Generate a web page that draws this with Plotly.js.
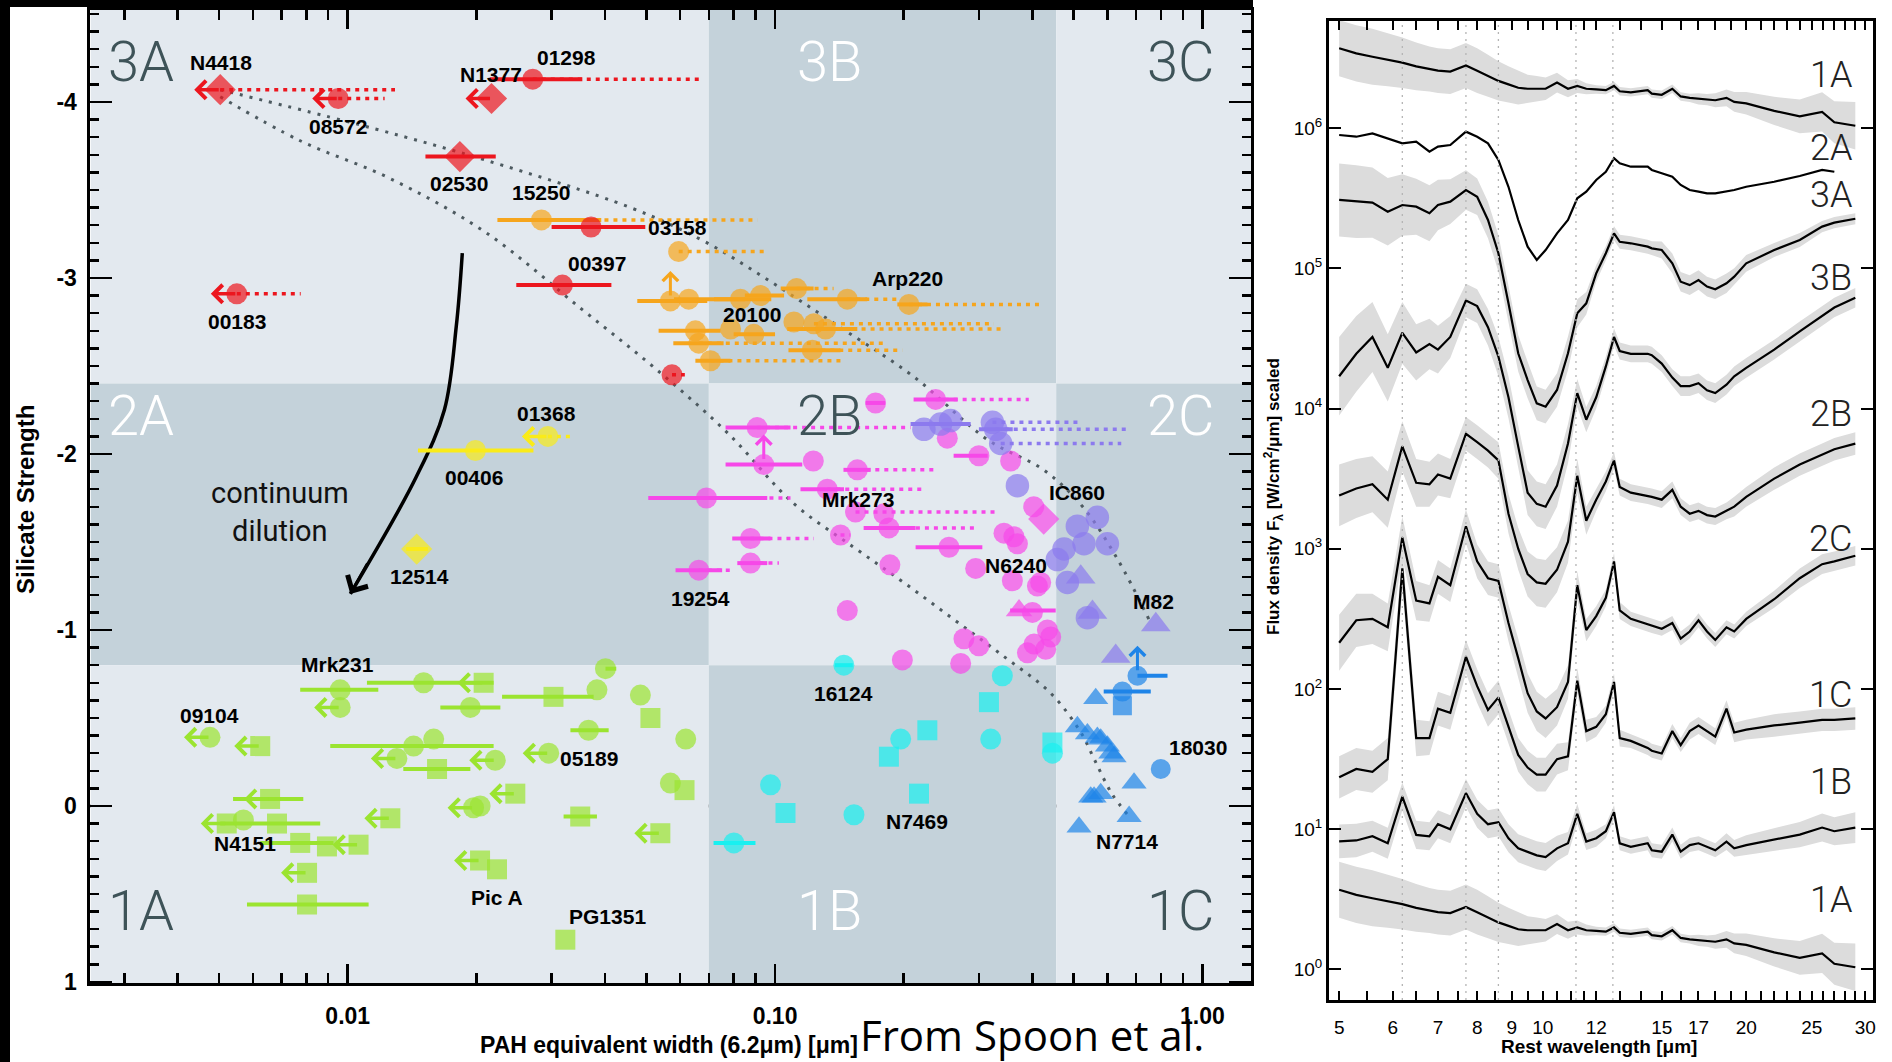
<!DOCTYPE html>
<html>
<head>
<meta charset="utf-8">
<script src="https://cdn.plot.ly/plotly-3.0.1.min.js"></script>
<style>
html,body{margin:0;padding:0;background:#ffffff;overflow:hidden;}
#fig{width:1892px;height:1062px;}
</style>
</head>
<body>
<div id="fig"></div>
<script>
// ===================== LEFT PANEL DATA (Spoon et al. fork diagram) =====================
const classColBounds = [0.0025, 0.07, 0.455, 1.3];
const classRowBounds = [-4.523, -2.4, -0.8, 1.006];
const classNames = [['3A','3B','3C'],['2A','2B','2C'],['1A','1B','1C']];
const classShadeDark = [[0,1,0],[1,0,1],[0,1,0]];

// red
const redX   = [0.00503,0.0095,0.0217,0.0271,0.0183,0.0371,0.0318,0.0055,0.0574];
const redY   = [-4.07,-4.02,-4.02,-4.13,-3.69,-3.29,-2.96,-2.91,-2.45];
const redSym = ['d','c','d','c','d','c','c','c','c'];
const redLo  = [null,null,null,0.0215,0.0152,0.0300,0.0248,null,null];
const redHi  = [null,null,null,0.0354,0.0222,0.0497,0.0414,null,null];
const redDot = [0.0129,0.0122,null,0.0669,null,null,null,0.00776,0.0615];
const redLim = [1,1,1,0,0,0,0,1,0];

// orange
const oraX   = [0.0284,0.0595,0.0569,0.0628,0.0830,0.0925,0.1123,0.1476,0.2058,0.0651,0.0787,0.0892,0.1107,0.1233,0.1313,0.0663,0.1222,0.0706];
const oraY   = [-3.33,-3.15,-2.87,-2.88,-2.88,-2.90,-2.94,-2.88,-2.85,-2.70,-2.71,-2.68,-2.75,-2.74,-2.71,-2.63,-2.59,-2.53];
const oraSym = ['c','c','c','c','c','c','c','c','c','c','c','c','c','c','c','c','c','c'];
const oraLo  = [0.0224,null,0.0476,0.058,0.072,0.085,0.1031,0.1190,0.1933,0.0534,null,0.080,null,null,0.1068,0.0578,0.1075,0.0651];
const oraHi  = [0.0392,null,0.0694,0.085,0.098,0.105,0.1231,0.1644,0.2272,0.0746,null,0.100,null,null,0.1558,0.0758,0.1423,0.0787];
const oraDot = [0.0910,0.0950,null,null,null,null,0.1371,0.1936,0.4148,null,null,null,null,0.3254,0.340,0.1831,0.1986,0.1423];
const oraLim = [0,0,2,0,0,0,0,0,0,0,0,0,0,0,0,0,0,0];

// yellow
const yelX   = [0.0199,0.0294,0.0145];
const yelY   = [-2.02,-2.10,-1.46];
const yelSym = ['c','c','d'];
const yelLo  = [0.0146,null,0.0137];
const yelHi  = [0.0272,null,0.0154];
const yelDot = [null,0.0339,null];
const yelLim = [0,1,0];

// magenta
const magX = [0.1719,0.2376,0.0908,0.0941,0.1229,0.1558,0.0691,0.1325,0.1543,0.1798,
              0.1847,0.0876,0.0876,0.0663,0.1423,0.2553,0.1857,0.1476,0.1986,0.2768,
              0.3000,0.2719,0.3434,0.3692,0.2948,0.3593,0.4112,0.4031,0.4254,0.3000,
              0.3559,0.2530,0.3724,0.4003,0.4038,0.4417,0.4300,0.3897,0.3623,0.4185,0.4340];
const magY = [-2.29,-2.31,-2.15,-1.94,-1.96,-1.91,-1.75,-1.80,-1.67,-1.66,
              -1.58,-1.52,-1.38,-1.34,-1.54,-1.47,-1.37,-1.11,-0.83,-0.95,
              -0.91,-0.81,-1.55,-1.49,-1.35,-1.28,-1.25,-1.70,-1.63,-1.99,
              -1.96,-2.09,-1.11,-1.10,-0.92,-0.96,-0.89,-0.87,-1.53,-1.27,-1.00];
const magSym = ['c','c','c','c','c','c','c','c','c','c','c','c','c','c','c','c','c','c','c','c',
                'c','c','c','c','c','c','c','c','d','c','c','c','t','c','c','c','c','c','c','c','c'];
const magLo = [0.163,0.2110,0.0766,0.0766,null,0.1446,0.0505,0.1147,null,null,
               0.1612,0.0794,0.0816,0.0585,null,0.2133,null,null,null,null,
               null,null,null,null,null,null,null,null,null,0.2618,
               null,null,0.355,null,null,null,null,null,null,null,null];
const magHi = [0.181,0.2676,0.1087,0.1158,null,0.1674,0.0959,0.145,null,null,
               0.2133,0.0976,0.0959,0.0752,null,0.3056,null,null,null,null,
               null,null,null,null,null,null,null,null,null,0.3146,
               null,null,0.4538,null,null,null,null,null,null,null,null];
const magDot = [null,0.3925,0.2076,null,null,0.2398,0.1087,0.2227,0.3337,null,
                0.2976,0.1233,0.1021,0.0799,0.150,null,null,null,null,null,
                null,null,null,null,null,null,null,null,null,null,
                null,null,null,null,null,null,null,null,null,null,null];
const magLim = [0,0,0,2,0,0,0,0,0,0,0,0,0,0,0,0,0,0,0,0,0,0,0,0,0,0,0,0,0,0,0,0,0,0,0,0,0,0,0,0,0];

// purple
const purX   = [0.2441,0.2231,0.2576,0.3285,0.3227,0.3374,0.3692,0.568,0.510,0.5996,0.5286,0.4747,0.4578,0.4833,0.5384,0.5193,0.5532,0.7783,0.6270];
const purY   = [-2.17,-2.14,-2.19,-2.14,-2.18,-2.06,-1.82,-1.64,-1.59,-1.49,-1.49,-1.46,-1.40,-1.27,-1.07,-1.30,-1.10,-1.03,-0.85];
const purSym = ['c','c','c','c','c','c','c','c','c','c','c','c','c','c','c','t','t','t','t'];
const purLo  = [0.2076,null,null,0.30,null,null,null,null,null,null,null,null,null,null,null,null,null,null,null];
const purHi  = [0.2870,null,null,0.36,null,null,null,null,null,null,null,null,null,null,null,null,null,null,null];
const purDot = [null,null,null,0.667,0.519,0.646,null,null,null,null,null,null,null,null,null,null,null,null,null];
const purLim = [0,0,0,0,0,0,0,0,0,0,0,0,0,0,0,0,0,0,0];

// blue
const bluX   = [0.7050,0.650,0.650,0.563,0.510,0.5384,0.5783,0.5996,0.6215,0.7993,0.558,0.5783,0.6922,0.674,0.5146,0.568,0.6106,0.548];
const bluY   = [-0.74,-0.65,-0.57,-0.61,-0.45,-0.41,-0.38,-0.34,-0.28,-0.21,-0.05,-0.07,-0.13,0.06,0.12,-0.39,-0.30,-0.05];
const bluSym = ['c','c','s','t','t','t','t','t','t','c','t','t','t','t','t','t','t','t'];
const bluLo  = [0.705,0.5878,null,null,null,null,null,null,null,null,null,null,null,null,null,null,null,null];
const bluHi  = [0.8289,0.7574,null,null,null,null,null,null,null,null,null,null,null,null,null,null,null,null];
const bluDot = [null,null,null,null,null,null,null,null,null,null,null,null,null,null,null,null,null,null];
const bluLim = [2,0,0,0,0,0,0,0,0,0,0,0,0,0,0,0,0,0];

// cyan
const cyaX   = [0.1449,0.3404,0.3167,0.2272,0.1968,0.1847,0.3197,0.4458,0.4458,0.0976,0.2172,0.1058,0.1530,0.0801];
const cyaY   = [-0.80,-0.74,-0.59,-0.43,-0.38,-0.28,-0.38,-0.36,-0.30,-0.12,-0.07,0.04,0.05,0.21];
const cyaSym = ['c','c','s','s','c','s','c','s','c','c','s','s','c','c'];
const cyaLo  = [0.138,null,null,null,null,null,null,null,null,null,null,null,null,0.0718];
const cyaHi  = [0.152,null,null,null,null,null,null,null,null,null,null,null,null,0.0900];
const cyaDot = [null,null,null,null,null,null,null,null,null,null,null,null,null,null];
const cyaLim = [0,0,0,0,0,0,0,0,0,0,0,0,0,0];

// green
const greX = [0.0096,0.0096,0.01505,0.0208,0.01936,0.0303,0.0383,0.0401,0.0484,0.0511,
              0.0366,0.00476,0.00624,0.01426,0.01589,0.01303,0.02214,0.01618,0.02953,0.0569,
              0.0614,0.0618,0.02467,0.0197,0.02041,0.01258,0.0350,0.0539,0.00658,0.00521,
              0.00570,0.00683,0.00774,0.00894,0.0106,0.00803,0.00803,0.0204,0.02235,0.0323];
const greY = [-0.66,-0.56,-0.70,-0.70,-0.56,-0.62,-0.66,-0.78,-0.63,-0.50,
              -0.43,-0.39,-0.34,-0.34,-0.38,-0.27,-0.26,-0.21,-0.30,-0.13,
              -0.09,-0.38,-0.07,0.01,0.00,0.07,0.06,0.155,-0.04,0.10,
              0.08,0.10,0.21,0.23,0.22,0.38,0.56,0.31,0.36,0.76];
const greSym = ['c','c','c','s','c','s','c','c','c','s','c','c','s','c','c','c','c','s','c','c',
                's','c','s','c','c','s','s','s','s','s','c','s','s','s','s','s','s','s','s','s'];
const greLo = [0.00774,null,0.01109,null,0.01647,0.02297,null,0.0401,null,null,
               0.0332,null,null,0.0091,null,null,null,0.01349,null,null,
               null,null,null,null,null,null,0.0320,null,0.00539,null,
               null,0.00503,0.00624,null,null,null,0.00581,null,null,null];
const greHi = [0.01179,null,0.02195,null,0.02276,0.03763,null,0.0425,null,null,
               0.0408,null,null,0.02195,null,null,null,0.01936,null,null,
               null,null,null,null,null,null,0.0383,null,0.00787,null,
               null,0.00862,0.00926,null,null,null,0.01119,null,null,null];
const greDot = [null,null,null,null,null,null,null,null,null,null,null,null,null,null,null,null,null,null,null,null,
                null,null,null,null,null,null,null,null,null,null,null,null,null,null,null,null,null,null,null,null];
const greLim = [0,1,0,1,0,0,0,0,0,0, 0,1,1,0,0,1,1,0,1,0, 0,0,1,1,0,1,0,1,1,1, 0,0,0,0,1,1,0,1,0,0];

// mixing lines and continuum-dilution track
const mixUpperX = [0.00503,0.01148,0.0210,0.0459,0.0681,0.0976,0.140,0.211,0.315,0.425,0.525,0.634,0.750];
const mixUpperY = [-4.07,-3.85,-3.67,-3.40,-3.21,-2.98,-2.73,-2.44,-2.08,-1.91,-1.70,-1.40,-1.06];
const mixLowerX = [0.00503,0.00774,0.01245,0.0210,0.0354,0.0522,0.0774,0.1104,0.1528,0.200,0.262,0.343,0.442,0.519,0.560,0.614,0.669];
const mixLowerY = [-4.03,-3.78,-3.57,-3.26,-2.82,-2.49,-2.12,-1.72,-1.47,-1.27,-1.06,-0.85,-0.64,-0.42,-0.26,-0.07,0.05];
const dilX = [0.01854,0.01795,0.01683,0.01446,0.01014];
const dilY = [-3.142,-2.727,-2.25,-1.869,-1.205];

// ===================== RIGHT PANEL DATA (average spectra, log10 flux, scaled) =====================
const wave = [5.0,5.3,5.6,5.9,6.2,6.5,6.8,7.0,7.3,7.7,8.0,8.3,8.6,8.9,9.2,9.5,9.8,10.1,10.5,10.9,
              11.25,11.6,12.0,12.4,12.75,13.0,13.5,14.3,14.5,15.0,15.55,16.0,16.5,17.0,17.5,18.0,18.7,19.2,20,22,24,25.9,27,29];
const lf1A = [0.569,0.532,0.508,0.488,0.466,0.439,0.421,0.409,0.402,0.446,0.409,0.372,0.336,0.311,0.287,0.280,0.280,0.280,0.324,0.280,
              0.300,0.280,0.275,0.270,0.300,0.262,0.254,0.270,0.245,0.237,0.280,0.225,0.215,0.208,0.203,0.198,0.215,0.186,0.176,0.122,0.083,0.115,0.041,0.016];
const lf2A = [5.950,5.938,5.962,5.927,5.891,5.903,5.831,5.867,5.879,5.974,5.938,5.891,5.772,5.581,5.344,5.154,5.059,5.130,5.249,5.344,
              5.499,5.546,5.629,5.688,5.784,5.748,5.724,5.724,5.701,5.677,5.653,5.594,5.558,5.546,5.534,5.534,5.546,5.558,5.581,5.617,5.658,5.701,5.688,null];
const lf3A = [5.487,5.475,5.468,5.403,5.451,5.439,5.392,5.451,5.475,5.558,5.510,5.344,5.107,4.750,4.394,4.203,4.037,4.013,4.132,4.394,
              4.679,4.750,4.964,5.107,5.249,5.189,5.178,5.154,5.142,5.130,5.035,4.904,4.880,4.916,4.869,4.850,4.893,4.940,5.035,5.130,5.202,5.297,5.325,5.353];
const lf3B = [4.23,4.39,4.51,4.29,4.54,4.40,4.46,4.42,4.51,4.77,4.73,4.58,4.37,4.08,3.73,3.40,3.32,3.30,3.45,3.75,
              4.11,3.92,4.08,4.30,4.51,4.41,4.39,4.39,4.38,4.32,4.22,4.16,4.16,4.18,4.13,4.11,4.17,4.23,4.29,4.42,4.55,4.66,4.72,4.79];
const lf2B = [3.38,3.43,3.46,3.35,3.73,3.47,3.46,3.53,3.50,3.82,3.76,3.70,3.63,3.25,3.00,2.82,2.76,2.75,2.85,3.05,
              3.52,3.20,3.35,3.48,3.63,3.44,3.40,3.38,3.37,3.35,3.42,3.30,3.25,3.27,3.24,3.23,3.27,3.30,3.37,3.50,3.60,3.67,3.71,3.75];
const lf2C = [2.33,2.49,2.50,2.44,3.08,2.63,2.61,2.80,2.74,3.16,2.91,2.79,2.77,2.47,2.22,1.97,1.84,1.79,1.87,2.05,
              2.74,2.42,2.52,2.65,2.91,2.56,2.50,2.46,2.45,2.43,2.47,2.36,2.41,2.49,2.41,2.35,2.44,2.41,2.50,2.64,2.79,2.89,2.91,2.95];
const lf1C = [1.37,1.43,1.41,1.50,2.86,1.65,1.65,1.86,1.83,2.23,2.02,1.85,1.94,1.73,1.53,1.44,1.39,1.39,1.50,1.52,
              2.06,1.70,1.73,1.82,2.05,1.65,1.63,1.58,1.56,1.54,1.70,1.60,1.70,1.74,1.70,1.66,1.86,1.69,1.71,1.74,1.76,1.78,1.78,1.79];
const lf1B = [0.913,0.92,0.95,0.90,1.233,0.96,0.95,1.036,1.0,1.258,1.11,1.036,1.05,0.936,0.864,0.84,0.814,0.802,0.864,0.90,
              1.11,0.912,0.936,0.986,1.122,0.90,0.875,0.90,0.85,0.84,0.962,0.84,0.887,0.90,0.875,0.85,0.912,0.864,0.887,0.925,0.962,1.012,0.986,1.012];
// half-width of the grey dispersion bands (dex)
const band1A = [0.2,0.2,0.2,0.19,0.18,0.17,0.16,0.16,0.16,0.16,0.16,0.15,0.14,0.13,0.12,0.1,0.09,0.08,0.07,0.06,
                0.05,0.04,0.03,0.03,0.03,0.03,0.03,0.03,0.03,0.03,0.03,0.03,0.03,0.04,0.04,0.05,0.06,0.07,0.08,0.1,0.12,0.14,0.15,0.17];
const band3A = [0.26,0.26,0.25,0.24,0.22,0.2,0.2,0.18,0.16,0.14,0.13,0.13,0.13,0.13,0.13,0.13,0.12,0.12,0.12,0.12,
                0.1,0.08,0.06,0.05,0.05,0.05,0.05,0.05,0.05,0.06,0.07,0.07,0.07,0.07,0.07,0.07,0.07,0.06,0.06,0.05,0.05,0.04,0.04,0.04];
const band3B = [0.28,0.27,0.25,0.24,0.22,0.2,0.18,0.17,0.15,0.12,0.12,0.13,0.14,0.15,0.15,0.16,0.16,0.16,0.15,0.14,
                0.1,0.09,0.08,0.07,0.06,0.06,0.06,0.06,0.06,0.06,0.06,0.07,0.07,0.07,0.07,0.07,0.07,0.07,0.07,0.07,0.07,0.07,0.07,0.07];
const band2B = [0.22,0.21,0.2,0.2,0.18,0.17,0.16,0.15,0.14,0.12,0.12,0.12,0.13,0.14,0.15,0.16,0.17,0.17,0.16,0.15,
                0.12,0.1,0.08,0.07,0.06,0.06,0.06,0.06,0.06,0.06,0.06,0.06,0.06,0.06,0.06,0.06,0.06,0.07,0.07,0.08,0.08,0.08,0.08,0.08];
const band2C = [0.2,0.19,0.18,0.17,0.15,0.14,0.13,0.12,0.12,0.12,0.12,0.12,0.12,0.13,0.14,0.14,0.14,0.14,0.13,0.12,
                0.1,0.08,0.07,0.06,0.06,0.06,0.05,0.05,0.05,0.05,0.05,0.05,0.05,0.05,0.05,0.05,0.05,0.05,0.05,0.06,0.07,0.07,0.07,0.07];
const band1C = [0.15,0.15,0.15,0.15,0.14,0.13,0.12,0.12,0.12,0.12,0.12,0.12,0.12,0.12,0.12,0.12,0.12,0.12,0.11,0.1,
                0.09,0.08,0.07,0.06,0.06,0.06,0.05,0.05,0.05,0.05,0.05,0.05,0.06,0.06,0.06,0.06,0.06,0.07,0.07,0.08,0.08,0.08,0.08,0.08];
const band1B = [0.12,0.12,0.11,0.11,0.1,0.1,0.1,0.1,0.1,0.1,0.1,0.1,0.1,0.1,0.1,0.1,0.1,0.1,0.09,0.08,
                0.07,0.06,0.06,0.05,0.05,0.05,0.05,0.05,0.05,0.05,0.05,0.05,0.05,0.05,0.05,0.05,0.06,0.06,0.07,0.08,0.09,0.1,0.1,0.11];
const specNames = ['1A','2A','3A','3B','2B','2C','1C','1B','1A'];
const specLogFlux = [lf1A, lf2A, lf3A, lf3B, lf2B, lf2C, lf1C, lf1B, lf1A];
const specShiftDex = [6,0,0,0,0,0,0,0,0];
const specBand = [band1A, null, band3A, band3B, band2B, band2C, band1C, band1B, band1A];
const pahLines = [6.2, 7.7, 8.6, 11.2, 12.7];
const waveTicks = [5,6,7,8,9,10,12,15,17,20,25,30];
const waveMinor = [5.5,6.5,7.5,8.5,9.5,10.5,11,11.5,13,14,16,18,19,21,22,23,24,26,27,28,29];

// ===================== STYLE =====================
const SYM = {c:'circle', s:'square', d:'diamond', t:'triangle-up'};
const SIZE = {c:21, s:20, d:24, t:23};
const LIGHT = '#e3e9ef', DARK = '#c4d2da';
const labelFont = {family:'Liberation Sans, Arial, sans-serif', size:21, color:'#000', weight:700};

const groups = {
  green:  {X:greX, Y:greY, S:greSym, Lo:greLo, Hi:greHi, Dot:greDot, Lim:greLim, color:'rgb(155,228,48)', k:1.0},
  cyan:   {X:cyaX, Y:cyaY, S:cyaSym, Lo:cyaLo, Hi:cyaHi, Dot:cyaDot, Lim:cyaLim, color:'rgb(25,240,240)', k:1.0},
  yellow: {X:yelX, Y:yelY, S:yelSym, Lo:yelLo, Hi:yelHi, Dot:yelDot, Lim:yelLim, color:'rgb(250,235,25)', k:1.0},
  orange: {X:oraX, Y:oraY, S:oraSym, Lo:oraLo, Hi:oraHi, Dot:oraDot, Lim:oraLim, color:'rgb(246,165,28)', k:1.0},
  red:    {X:redX, Y:redY, S:redSym, Lo:redLo, Hi:redHi, Dot:redDot, Lim:redLim, color:'rgb(236,22,30)', k:1.0},
  magenta:{X:magX, Y:magY, S:magSym, Lo:magLo, Hi:magHi, Dot:magDot, Lim:magLim, color:'rgb(246,72,232)', k:1.0},
  purple: {X:purX, Y:purY, S:purSym, Lo:purLo, Hi:purHi, Dot:purDot, Lim:purLim, color:'rgb(140,122,238)', k:1.12},
  blue:   {X:bluX, Y:bluY, S:bluSym, Lo:bluLo, Hi:bluHi, Dot:bluDot, Lim:bluLim, color:'rgb(30,132,232)', k:0.95}
};
const drawOrder = ['green','cyan','yellow','orange','red','magenta','purple','blue'];

// galaxy name labels: [group, index, text, dx(px), dy(px, down)]
const nameLabels = [
  ['red',0,'N4418',1,-27],['red',1,'08572',0,28],['red',2,'N1377',-1,-24],['red',3,'01298',34,-22],
  ['red',4,'02530',-1,27],['red',5,'03158',86,1],['red',6,'00397',35,-22],['red',7,'00183',0,28],
  ['orange',0,'15250',0,-27],['orange',8,'Arp220',-1,-26],['orange',4,'20100',12,15],
  ['yellow',0,'00406',-1,27],['yellow',1,'01368',-1,-23],['yellow',2,'12514',3,27],
  ['magenta',8,'Mrk273',2,-13],['magenta',13,'19254',2,28],['magenta',24,'N6240',40,-3],
  ['purple',6,'IC860',60,7],['purple',17,'M82',-2,-23],
  ['blue',9,'18030',37,-22],['blue',13,'N7714',-2,25],
  ['cyan',0,'16124',0,28],['cyan',10,'N7469',-2,28],
  ['green',0,'Mrk231',-3,-25],['green',11,'09104',0,-22],['green',18,'05189',40,5],
  ['green',30,'N4151',2,23],['green',38,'Pic A',0,28],['green',39,'PG1351',42,-23]
];

// ===================== BUILD =====================
const traces = [];
const shapes = [];
const annotations = [];

// class regions
for (let r = 0; r < 3; r++) {
  for (let c = 0; c < 3; c++) {
    shapes.push({type:'rect', xref:'x', yref:'y', layer:'below',
      x0:classColBounds[c], x1:classColBounds[c+1], y0:classRowBounds[r], y1:classRowBounds[r+1],
      fillcolor: classShadeDark[r][c] ? DARK : LIGHT, line:{width:0}});
  }
}
// zero line
shapes.push({type:'line', xref:'x domain', yref:'y', x0:0, x1:1, y0:0, y1:0, layer:'below',
  line:{color:'#000', width:3, dash:'20px,12px'}});

// class labels
const classLabelX = [-2.5656, -0.9543, 0.0316];
const classLabelAnchor = ['left','left','right'];
const classLabelY = [-4.227, -2.216, 0.597];
for (let r = 0; r < 3; r++) for (let c = 0; c < 3; c++) {
  annotations.push({xref:'x', yref:'y', x:classLabelX[c], y:classLabelY[r], text:classNames[r][c],
    showarrow:false, xanchor:classLabelAnchor[c], yanchor:'middle',
    font:{family:'Roboto, sans-serif', size:56, weight:300, color: classShadeDark[r][c] ? '#ffffff' : '#3e5358'}});
}

// mixing lines
traces.push({x:mixUpperX, y:mixUpperY, mode:'lines', line:{color:'#4d5a60', width:3, dash:'3px,7px', shape:'spline'}, hoverinfo:'skip', xaxis:'x', yaxis:'y'});
traces.push({x:mixLowerX, y:mixLowerY, mode:'lines', line:{color:'#4d5a60', width:3, dash:'3px,7px', shape:'spline'}, hoverinfo:'skip', xaxis:'x', yaxis:'y'});
// continuum dilution track
traces.push({x:dilX, y:dilY, mode:'lines', line:{color:'#000', width:3.5, shape:'spline'}, hoverinfo:'skip', xaxis:'x', yaxis:'y'});
annotations.push({xref:'x', yref:'y', x:Math.log10(dilX[dilX.length-1]), y:dilY[dilY.length-1], text:'',
  showarrow:true, ax:18, ay:-32, arrowhead:4, arrowsize:1.5, arrowwidth:3, arrowcolor:'#000', standoff:0});
annotations.push({xref:'x', yref:'y', x:-2.158, y:-1.673, text:'continuum<br>dilution', showarrow:false,
  align:'center', font:{family:'Roboto, sans-serif', size:29, color:'#111'}});

// data groups
for (const key of drawOrder) {
  const g = groups[key];
  const dx = [], dy = [];
  g.X.forEach((x, i) => {
    if (g.Dot[i] != null) { dx.push(x, g.Dot[i], null); dy.push(g.Y[i], g.Y[i], null); }
  });
  if (dx.length) traces.push({x:dx, y:dy, mode:'lines', line:{color:g.color, width:3.5, dash:'4px,5px'},
    hoverinfo:'skip', xaxis:'x', yaxis:'y'});
  traces.push({
    x:g.X, y:g.Y, mode:'markers', xaxis:'x', yaxis:'y', hoverinfo:'skip',
    marker:{color:g.color, symbol:g.S.map(s => SYM[s]), size:g.S.map(s => SIZE[s]*g.k), line:{width:0}},
    error_x:{type:'data', symmetric:false,
      array:g.X.map((x,i) => g.Hi[i] == null ? 0 : g.Hi[i]-x),
      arrayminus:g.X.map((x,i) => g.Lo[i] == null ? 0 : x-g.Lo[i]),
      color:g.color, thickness:4, width:0}
  });
  g.Lim.forEach((l, i) => {
    if (l === 1) annotations.push({xref:'x', yref:'y', x:Math.log10(g.X[i]), y:g.Y[i], text:'', showarrow:true,
      ax:26, ay:0, xshift:-26, arrowhead:4, arrowsize:1, arrowwidth:3.5, arrowcolor:g.color, standoff:0});
    if (l === 2) annotations.push({xref:'x', yref:'y', x:Math.log10(g.X[i]), y:g.Y[i], text:'', showarrow:true,
      ax:0, ay:26, yshift:30, arrowhead:4, arrowsize:1, arrowwidth:3, arrowcolor:g.color, standoff:0});
  });
}
for (const [gk, i, txt, ddx, ddy] of nameLabels) {
  const g = groups[gk];
  annotations.push({xref:'x', yref:'y', x:Math.log10(g.X[i]), y:g.Y[i], xshift:ddx, yshift:-ddy,
    text:txt, showarrow:false, font:labelFont});
}

// ----- right panel -----
for (let s = 0; s < specNames.length; s++) {
  const b = specBand[s]; if (!b) continue;
  const lf = specLogFlux[s], sh = specShiftDex[s];
  const up = wave.map((w,j) => Math.pow(10, lf[j] + sh + b[j]));
  const lo = wave.map((w,j) => Math.pow(10, lf[j] + sh - b[j]));
  traces.push({x:wave.concat(wave.slice().reverse()), y:up.concat(lo.reverse()), mode:'lines', fill:'toself',
    fillcolor:'#dcdcdc', line:{width:0}, hoverinfo:'skip', xaxis:'x2', yaxis:'y2'});
}
for (let s = 0; s < specNames.length; s++) {
  const lf = specLogFlux[s], sh = specShiftDex[s];
  traces.push({x:wave, y:lf.map(v => v == null ? null : Math.pow(10, v + sh)), mode:'lines',
    line:{color:'#000', width:2.2}, hoverinfo:'skip', xaxis:'x2', yaxis:'y2', connectgaps:false});
}
for (const w of pahLines) {
  shapes.push({type:'line', xref:'x2', yref:'y2 domain', x0:w, x1:w, y0:0, y1:1, layer:'above',
    line:{color:'#b4b4b4', width:1.3, dash:'2px,5px'}});
}
const specLabelY = [6.378, 5.857, 5.519, 4.934, 3.961, 3.070, 1.957, 1.337, 0.495];
specNames.forEach((n, s) => annotations.push({xref:'paper', yref:'y2', x:0.9800, y:specLabelY[s], text:n,
  showarrow:false, xanchor:'right', yanchor:'middle', font:{family:'Roboto, sans-serif', size:36, weight:300, color:'#222'}}));

// frame strips of the left figure
shapes.push({type:'rect', xref:'paper', yref:'paper', x0:0, x1:10/1892, y0:0, y1:1, fillcolor:'#000', line:{width:0}, layer:'below'});
shapes.push({type:'rect', xref:'paper', yref:'paper', x0:0, x1:1253/1892, y0:1-7/1062, y1:1, fillcolor:'#000', line:{width:0}, layer:'below'});

// axis titles
annotations.push({xref:'paper', yref:'paper', x:669/1892, y:1-1045/1062, text:'PAH equivalent width (6.2μm) [μm]',
  showarrow:false, xanchor:'center', yanchor:'middle', font:{family:'Liberation Sans, Arial, sans-serif', size:23, weight:700, color:'#000'}});
annotations.push({xref:'paper', yref:'paper', x:25/1892, y:1-500/1062, text:'Silicate Strength', textangle:-90,
  showarrow:false, xanchor:'center', yanchor:'middle', font:{family:'Liberation Sans, Arial, sans-serif', size:24, weight:700, color:'#000'}});
annotations.push({xref:'paper', yref:'paper', x:1599/1892, y:1-1046/1062, text:'Rest wavelength [μm]',
  showarrow:false, xanchor:'center', yanchor:'middle', font:{family:'Liberation Sans, Arial, sans-serif', size:19, weight:700, color:'#000'}});
annotations.push({xref:'paper', yref:'paper', x:1273/1892, y:1-497/1062, text:'Flux density F<sub>λ</sub> [W/cm<sup>2</sup>/μm] scaled', textangle:-90,
  showarrow:false, xanchor:'center', yanchor:'middle', font:{family:'Liberation Sans, Arial, sans-serif', size:17, weight:700, color:'#000'}});
annotations.push({xref:'paper', yref:'paper', x:1032/1892, y:1-1034/1062, text:'From Spoon et al.',
  showarrow:false, xanchor:'center', yanchor:'middle', font:{family:'Open Sans, sans-serif', size:42, color:'#000'}});

const minorX = [];
for (const dec of [0.001, 0.01, 0.1]) for (let k = 2; k <= 9; k++) {
  const v = +(k*dec).toPrecision(3);
  if (v >= classColBounds[0] && v <= classColBounds[3]) minorX.push(v);
}
const tickFontL = {family:'Liberation Sans, Arial, sans-serif', size:23, weight:700, color:'#000'};
const tickFontR = {family:'Liberation Sans, Arial, sans-serif', size:19, color:'#000'};

const layout = {
  width:1892, height:1062, margin:{l:0, r:0, t:0, b:0},
  paper_bgcolor:'#ffffff', plot_bgcolor:'rgba(0,0,0,0)', showlegend:false, hovermode:false,
  xaxis:{domain:[0.04783,0.66121], anchor:'y', type:'log', range:[Math.log10(classColBounds[0]), Math.log10(classColBounds[3])],
    tickmode:'array', tickvals:[0.01,0.1,1], ticktext:['0.01','0.10','1.00'], ticks:'inside', ticklen:19, tickwidth:2.5, tickcolor:'#000',
    showline:true, linecolor:'#000', linewidth:3, mirror:'ticks', showgrid:false, zeroline:false, tickfont:tickFontL, ticklabelstandoff:10,
    minor:{tickmode:'array', tickvals:minorX, ticks:'inside', ticklen:10, tickwidth:2.5, tickcolor:'#000', showgrid:false}},
  yaxis:{domain:[0.07439,0.99058], anchor:'x', range:[classRowBounds[3], classRowBounds[0]],
    tickmode:'array', tickvals:[-4,-3,-2,-1,0,1], ticktext:['-4','-3','-2','-1','0','1'], ticks:'inside', ticklen:22, tickwidth:2.5, tickcolor:'#000',
    showline:true, linecolor:'#000', linewidth:3, mirror:'ticks', showgrid:false, zeroline:false, tickfont:tickFontL, ticklabelstandoff:6,
    minor:{dtick:0.1, tick0:0, ticks:'inside', ticklen:9, tickwidth:2.5, tickcolor:'#000', showgrid:false}},
  xaxis2:{domain:[0.70243,0.98996], anchor:'y2', type:'log', range:[Math.log10(4.83), Math.log10(30.8)],
    tickmode:'array', tickvals:waveTicks, ticktext:waveTicks.map(String), ticks:'inside', ticklen:9, tickwidth:2, tickcolor:'#000',
    showline:true, linecolor:'#000', linewidth:3, mirror:'ticks', showgrid:false, zeroline:false, tickfont:tickFontR, ticklabelstandoff:8,
    minor:{tickmode:'array', tickvals:waveMinor, ticks:'inside', ticklen:9, tickwidth:2, tickcolor:'#000', showgrid:false}},
  yaxis2:{domain:[0.05838,0.98023], anchor:'x2', type:'log', range:[-0.2175, 6.763],
    tickmode:'array', tickvals:[1,10,100,1e3,1e4,1e5,1e6],
    ticktext:['10<sup>0</sup>','10<sup>1</sup>','10<sup>2</sup>','10<sup>3</sup>','10<sup>4</sup>','10<sup>5</sup>','10<sup>6</sup>'],
    ticks:'inside', ticklen:12, tickwidth:2, tickcolor:'#000',
    showline:true, linecolor:'#000', linewidth:3, mirror:'ticks', showgrid:false, zeroline:false, tickfont:tickFontR},
  shapes:shapes, annotations:annotations
};

Plotly.newPlot('fig', traces, layout, {staticPlot:true, displayModeBar:false});
</script>
</body>
</html>
